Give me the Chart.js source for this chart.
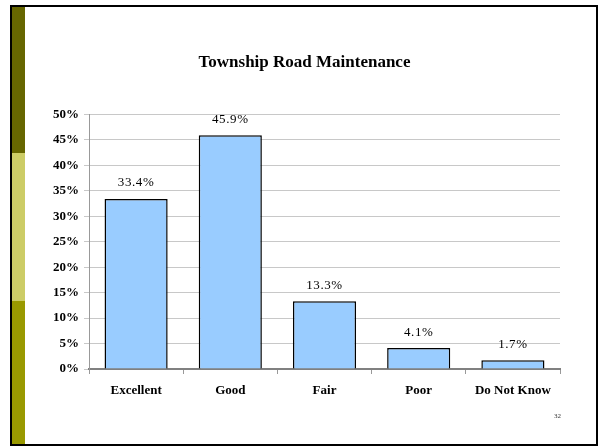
<!DOCTYPE html>
<html>
<head>
<meta charset="utf-8">
<script src="https://cdn.jsdelivr.net/npm/chart.js@4.4.0/dist/chart.umd.min.js"></script>
<style>
  body { margin: 0; background: #fff; }
  #wrap { position: relative; width: 600px; height: 447px; overflow: hidden; }
  #frame { position: absolute; left: 10px; top: 5px; width: 584px; height: 437px; border: 2px solid #000; }
  .strip { position: absolute; left: 12px; width: 13px; }
  #chartBox { position: absolute; left: 0; top: 0; width: 600px; height: 447px; }
  #pageNo { position: absolute; left: 554px; top: 412px; font: 7px "Liberation Serif", serif; color: #333; }
</style>
</head>
<body>
<div id="wrap">
  <div id="frame"></div>
  <div class="strip" style="top:7px;height:146px;background:#666600"></div>
  <div class="strip" style="top:153px;height:148px;background:#cccc66"></div>
  <div class="strip" style="top:301px;height:143px;background:#999900"></div>
  <div id="chartBox"><canvas id="myChartBar" width="600" height="447"></canvas></div>
  <div id="pageNo">32</div>
</div>
<script>
var categorias = ['Excellent', 'Good', 'Fair', 'Poor', 'Do Not Know'];
var porcentajes = [33.4, 45.9, 13.3, 4.1, 1.7];
var ticksY = [0, 5, 10, 15, 20, 25, 30, 35, 40, 45, 50];

var serif = '"Liberation Serif", "DejaVu Serif", serif';

// etiquetas de valor encima de cada barra
var valueLabels = {
    id: 'valueLabels',
    afterDatasetsDraw: function (chart) {
        var ctx = chart.ctx;
        var meta = chart.getDatasetMeta(0);
        ctx.save();
        ctx.font = '13px ' + serif;
        ctx.letterSpacing = '0.6px';
        ctx.fillStyle = '#000';
        ctx.textAlign = 'center';
        ctx.textBaseline = 'middle';
        meta.data.forEach(function (bar, i) {
            ctx.fillText(porcentajes[i].toFixed(1) + '%', bar.x, bar.y - 16);
        });
        ctx.restore();
    }
};

var ctx = document.getElementById('myChartBar').getContext('2d');

var myChart = new Chart(ctx, {
    type: 'bar',
    data: {
        labels: categorias,
        datasets: [{
            data: porcentajes,
            backgroundColor: '#99ccff',
            borderColor: '#000',
            borderWidth: 1.5,
            categoryPercentage: 1,
            barPercentage: 0.67
        }]
    },
    options: {
        responsive: false,
        animation: false,
        devicePixelRatio: 1,
        layout: { padding: { left: 49, right: 40, top: 0, bottom: 0 } },
        plugins: {
            legend: { display: false },
            tooltip: { enabled: false },
            title: {
                display: true,
                text: 'Township Road Maintenance',
                color: '#000',
                font: { family: serif, size: 17, weight: 'bold' },
                padding: { top: 52, bottom: 42 }
            }
        },
        scales: {
            x: {
                afterFit: function (scale) { scale.height = 78; },
                grid: {
                    drawOnChartArea: false,
                    drawTicks: true,
                    tickLength: 5,
                    color: '#999'
                },
                border: { color: '#808080', width: 2 },
                ticks: {
                    color: '#000',
                    padding: 9,
                    maxRotation: 0,
                    font: { family: serif, size: 13, weight: 'bold' }
                }
            },
            y: {
                min: 0,
                max: 50,
                afterFit: function (scale) { scale.width = 40; },
                afterBuildTicks: function (scale) {
                    scale.ticks = ticksY.map(function (v) { return { value: v }; });
                },
                grid: { color: '#c8c8c8', tickLength: 5 },
                border: { color: '#999' },
                ticks: {
                    color: '#000',
                    padding: 5,
                    font: { family: serif, size: 13, weight: 'bold' },
                    callback: function (v) { return v + '%'; }
                }
            }
        }
    },
    plugins: [valueLabels]
});
</script>
</body>
</html>
